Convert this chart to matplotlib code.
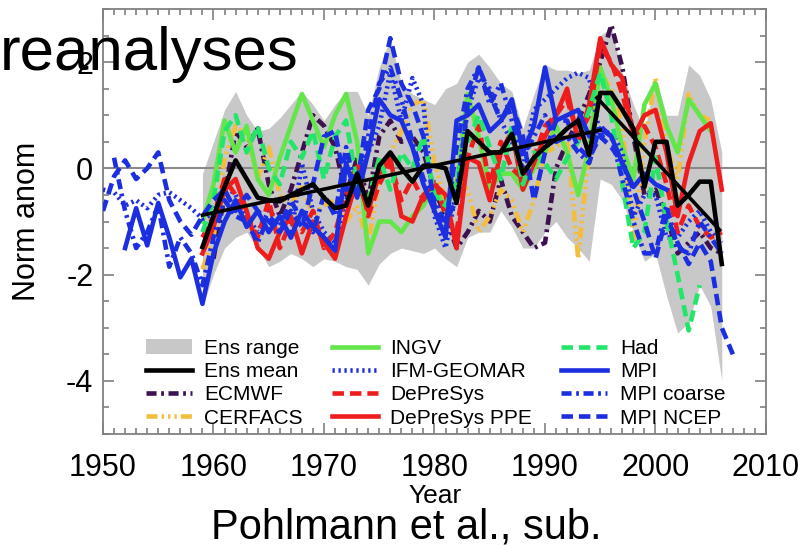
import matplotlib
matplotlib.use('Agg')
import matplotlib.pyplot as plt
import numpy as np
from matplotlib.ticker import MultipleLocator

plt.rcParams['font.family'] = ['Liberation Sans', 'DejaVu Sans']
plt.rcParams['axes.unicode_minus'] = False

# ensemble range (gray band) and ensemble mean, 1959-2006
ens_years = list(range(1959, 2007))
ens_upper = [-0.1, 0.5, 1.1, 1.45, 1.0, 0.7, 0.75, 0.95, 1.2, 1.45, 1.2, 0.9, 1.2, 1.45, 1.45, 1.0,
             1.9, 2.45, 1.6, 1.4, 1.3, 1.2, 1.5, 1.6, 2.0, 2.15, 1.9, 1.6, 1.45, 0.75, 1.4, 1.95,
             1.85, 1.85, 1.8, 1.85, 2.5, 2.65, 1.8, 1.2, 0.7, 1.7, 1.0, 1.0, 1.95, 1.75, 1.3, 0.3]
ens_lower = [-2.6, -2.0, -1.5, -1.3, -1.2, -1.5, -1.85, -1.75, -1.6, -1.7, -1.85, -1.7, -1.75, -1.85,
             -1.9, -2.2, -1.8, -1.6, -1.5, -1.55, -1.6, -1.5, -1.7, -1.85, -1.3, -1.2, -1.2, -0.8,
             -1.1, -1.5, -1.5, -1.2, -1.0, -1.3, -1.5, -1.75, -0.2, -0.3, -0.6, -1.2, -1.75, -1.6,
             -2.4, -3.1, -2.9, -2.2, -2.6, -4.0]
ens_mean = [-1.48, -0.9, -0.35, 0.15, -0.2, -0.55, -0.6, -0.62, -0.5, -0.4, -0.3, -0.55, -0.75, -0.7,
            -0.1, -0.7, 0.05, 0.3, 0.0, -0.25, 0.05, 0.05, 0.0, -0.65, 0.7, 0.5, 0.3, 0.3, 0.65, -0.1,
            0.2, 0.4, 0.55, 0.75, 0.9, 0.25, 1.42, 1.42, 1.1, 0.75, -0.35, 0.5, 0.5, -0.7, -0.5,
            -0.25, -0.25, -1.8]

# linear trends of the ensemble mean
trend1_years = [1959, 1995]
trend1_vals = [-0.88, 0.72]
trend2_years = [1994.7, 2005.8]
trend2_vals = [1.33, -1.16]

ecmwf_years = list(range(1960, 2007))
ecmwf = [-1.7, -0.5, 0.7, 0.4, 0.75, -0.3, -0.9, -0.4, 0.3, 1.0, 0.8, 0.4, -0.5, 0.2, -0.6, 0.6,
         0.9, 0.5, 0.6, 0.3, -0.4, -0.9, -1.5, -1.2, -0.8, -1.0, -0.2, -0.9, -1.2, -1.5, -1.4, 0.0,
         0.5, 0.9, 1.4, 2.0, 2.7, 1.9, 0.6, -0.5, -0.4, -0.9, -1.6, -1.4, -1.2, -1.5, -1.6]

cerfacs_years = list(range(1959, 2006))
cerfacs = [-1.9, -1.3, 0.2, 0.8, 0.6, -0.2, 0.4, -0.5, -0.7, -0.3, -0.9, -0.7, -0.6, -1.0, -0.7,
           -1.4, -0.2, 0.3, 0.7, 1.2, 1.3, 0.1, -0.6, -0.2, -0.4, -1.2, -0.9, -0.4, -0.6, -1.2,
           -0.6, 0.3, 0.4, 0.6, -1.7, 0.4, 1.8, 1.5, 0.8, -1.4, 0.5, 1.7, 0.4, -0.2, 1.4, 1.0, 0.9]

ingv_years = list(range(1959, 2006))
ingv = [-1.0, -0.3, 0.9, 0.3, 0.8, -0.2, -0.5, 0.2, 0.8, 1.4, 0.9, 0.4, 1.0, 1.4, 0.5, -1.6, -1.0,
        -1.0, -1.2, -0.9, -0.7, -0.3, -0.8, -0.3, 1.4, 0.6, -0.4, -0.1, -0.1, -0.4, 0.0, 0.3, 0.8,
        0.3, -0.5, 0.4, 1.9, 1.3, 0.4, -0.2, 1.2, 1.6, 0.8, 0.3, 1.3, 1.0, 0.7]

ifm_years = list(range(1950, 2007))
ifm = [-0.4, -0.45, -0.7, -0.6, -0.75, -0.5, -0.45, -0.6, -0.75, -0.95, -0.85, -0.3, -0.5, -0.9,
       -1.2, -0.8, -1.0, -1.3, 0.1, -0.8, -1.2, -1.4, -0.6, -0.2, 0.3, 0.8, 1.8, 0.9, 1.7, 1.2,
       -0.9, -1.5, -0.4, 1.1, 1.7, 1.5, 0.9, 0.5, 0.0, 1.1, 1.3, 1.5, 1.7, 1.8, 1.7, 0.6, 0.7,
       0.3, -0.9, -0.5, -0.5, -1.3, -1.3, -1.0, -0.8, -1.2, -1.4]

depresys_years = list(range(1959, 2007))
depresys = [-1.3, -0.9, -0.2, -0.5, -0.9, -1.3, -0.6, -1.5, -1.0, -1.2, -0.8, -1.5, -1.2, -0.5, 0.1,
            -0.9, -0.3, 0.1, -0.6, -0.2, -0.6, -0.2, -0.9, -1.2, 0.2, 0.8, -0.3, 0.5, 0.0, -0.2,
            0.2, 0.8, 1.0, 1.3, 0.6, 1.0, 2.3, 2.0, 1.4, 0.6, 0.8, 0.4, -0.3, -1.2, -0.7, -1.1,
            -1.3, -1.2]

ppe_years = list(range(1959, 2007))
ppe = [-1.6, -1.1, -0.4, -0.2, -0.8, -1.5, -1.7, -1.2, -0.9, -1.6, -1.0, -1.4, -1.7, -0.9, -0.2,
       -0.8, -0.1, 0.2, -0.9, -1.0, -0.5, -0.3, -0.5, -1.5, 0.2, 0.1, -0.6, 0.3, 0.7, -0.4, 0.1,
       0.6, 1.0, 1.5, 0.5, 1.2, 2.45, 1.95, 1.7, 0.6, 1.0, 1.1, 0.3, -0.9, 0.1, 0.7, 0.85, -0.4]

had_years = list(range(1959, 2005))
had = [-1.2, -0.6, 0.7, 1.0, 0.3, 0.8, 0.0, -0.3, 0.5, 0.2, 0.7, -0.2, 0.6, 0.9, -0.3, -0.6, 0.2,
       -0.4, 0.3, 0.0, 0.6, -0.5, -0.7, -0.2, 0.5, 1.0, 0.4, -0.2, 0.8, -0.3, 0.3, 0.1, -0.2, 0.2,
       0.5, 1.1, 1.8, 1.0, -0.3, -1.5, -1.2, 0.2, -1.0, -2.0, -3.05, -2.2]

mpi_years = list(range(1952, 2002))
mpi = [-1.5, -0.75, -1.45, -0.65, -1.3, -2.05, -1.7, -2.55, -1.6, -1.0, -0.6, -1.1, -0.8, -1.2,
       -0.9, -1.3, -0.8, -1.1, -1.3, -1.55, 0.1, -0.55, 0.3, 1.3, 1.0, 0.9, 0.4, -0.3, -0.8, -1.3,
       0.9, 1.0, 1.2, 0.7, 0.9, 1.3, 0.3, 0.8, 1.9, 0.9, 1.0, 1.1, 0.6, 0.75, 0.6, 0.1, -0.35,
       -0.1, -0.3, -0.4]

mpic_years = list(range(1951, 2007))
mpic = [0.2, -0.8, -1.5, -1.2, -0.7, -1.85, -1.3, -1.6, -2.2, -1.3, -0.6, -0.9, -1.0, -1.4, -0.9,
        -1.1, -0.6, -1.0, -1.2, -0.5, -0.9, 0.4, -0.5, 0.6, 1.6, 1.9, 1.3, 0.5, -0.2, -0.6, -1.1,
        0.4, 1.5, 1.9, 1.2, 1.6, 0.9, 0.2, 0.6, 1.0, 0.5, 0.6, 0.3, 0.1, 0.8, 0.6, -0.2, -1.0,
        -1.6, -1.6, -0.7, -1.5, -1.6, -1.0, -1.3, -1.6]

ncep_years = list(range(1950, 2008))
ncep = [-0.8, -0.15, 0.15, -0.2, 0.0, 0.3, -0.6, -1.0, -1.25, -0.9, -0.6, -0.4, -0.8, -0.5, -0.8,
        -1.0, -1.2, -0.8, -1.1, -0.3, 0.6, 0.7, -0.4, -0.3, 1.1, 1.5, 2.45, 1.6, 1.2, 0.6, -0.7,
        -1.0, -0.6, 1.2, 1.9, 1.4, 0.9, 1.2, 0.6, -0.6, 0.3, 0.9, 0.9, 0.4, 0.2, 0.6, 0.4, 0.1,
        -0.4, -1.0, -1.7, -0.9, -1.4, -1.8, -1.4, -1.75, -3.0, -3.5]

blue = '#1c2fe0'
red = '#ee1c1c'
lw = 3.3

fig = plt.figure(figsize=(8.04, 5.48), dpi=100)
ax = fig.add_axes([103 / 804, 1 - 434 / 548, 663 / 804, 425 / 548])

ax.fill_between(ens_years, ens_lower, ens_upper, color='#c8c8c8', lw=0, label='Ens range', zorder=1)
ax.axhline(0, color='#8a8a8a', lw=1.5, zorder=2)

ax.plot(ecmwf_years, ecmwf, color='#3d1050', lw=lw, dashes=(2.2, 1, 0.6, 1), label='ECMWF', zorder=3)
ax.plot(cerfacs_years, cerfacs, color='#f4bd3c', lw=lw, dashes=(2.4, 0.9, 0.5, 0.9, 0.5, 0.9, 0.5, 0.9),
        label='CERFACS', zorder=3)
ax.plot(ingv_years, ingv, color='#62e64a', lw=lw, label='INGV', zorder=3)
ax.plot(ifm_years, ifm, color=blue, lw=lw, dashes=(0.5, 0.8), label='IFM-GEOMAR', zorder=3)
ax.plot(depresys_years, depresys, color=red, lw=lw, dashes=(2.5, 1.3), label='DePreSys', zorder=3)
ax.plot(ppe_years, ppe, color=red, lw=lw, label='DePreSys PPE', zorder=3)
ax.plot(had_years, had, color='#22e66a', lw=lw, dashes=(2.5, 1.3), label='Had', zorder=3)
ax.plot(mpi_years, mpi, color=blue, lw=lw, label='MPI', zorder=3)
ax.plot(mpic_years, mpic, color=blue, lw=lw, dashes=(2.2, 1, 0.6, 1), label='MPI coarse', zorder=3)
ax.plot(ncep_years, ncep, color=blue, lw=lw, dashes=(2.5, 1.3), label='MPI NCEP', zorder=3)

ax.plot(ens_years, ens_mean, color='black', lw=lw, label='Ens mean', zorder=5)
ax.plot(trend1_years, trend1_vals, color='black', lw=2.6, zorder=5)
ax.plot(trend2_years, trend2_vals, color='black', lw=2.6, zorder=5)

ax.set_xlim(1950, 2010)
ax.set_ylim(-5, 3)
ax.xaxis.set_major_locator(MultipleLocator(10))
ax.xaxis.set_minor_locator(MultipleLocator(1))
ax.yaxis.set_major_locator(MultipleLocator(2))
ax.yaxis.set_minor_locator(MultipleLocator(0.5))
ax.tick_params(which='both', direction='in', top=True, right=True, color='#808080', width=1.2)
ax.tick_params(which='major', length=8)
ax.tick_params(which='minor', length=4)
ax.tick_params(axis='x', which='major', labelsize=22, pad=14)
ax.tick_params(axis='y', which='major', labelsize=22, pad=7)
for sp in ax.spines.values():
    sp.set_color('#808080')
    sp.set_linewidth(1.3)

# legend in the original order
handles, labels = ax.get_legend_handles_labels()
order = ['Ens range', 'Ens mean', 'ECMWF', 'CERFACS', 'INGV', 'IFM-GEOMAR',
         'DePreSys', 'DePreSys PPE', 'Had', 'MPI', 'MPI coarse', 'MPI NCEP']
hmap = dict(zip(labels, handles))
ax.legend([hmap[k] for k in order], order, ncol=3, frameon=False, fontsize=15,
          loc='upper left', bbox_to_anchor=(146 / 804, 1 - 339 / 548), bbox_transform=fig.transFigure,
          borderpad=0, borderaxespad=0, handlelength=2.2, handletextpad=0.6,
          columnspacing=1.4, labelspacing=0.2)

fig.text(27 / 804, 1 - 221 / 548, 'Norm anom', rotation=90, ha='center', va='center', fontsize=22)
fig.text(435 / 804, 1 - 503 / 548, 'Year', ha='center', va='baseline', fontsize=19)
fig.text(406 / 804, 1 - 538 / 548, 'Pohlmann et al., sub.', ha='center', va='baseline', fontsize=30)
fig.text(0, 1 - 70 / 548, 'reanalyses', ha='left', va='baseline', fontsize=44.5)

fig.savefig('out.png', dpi=100)
